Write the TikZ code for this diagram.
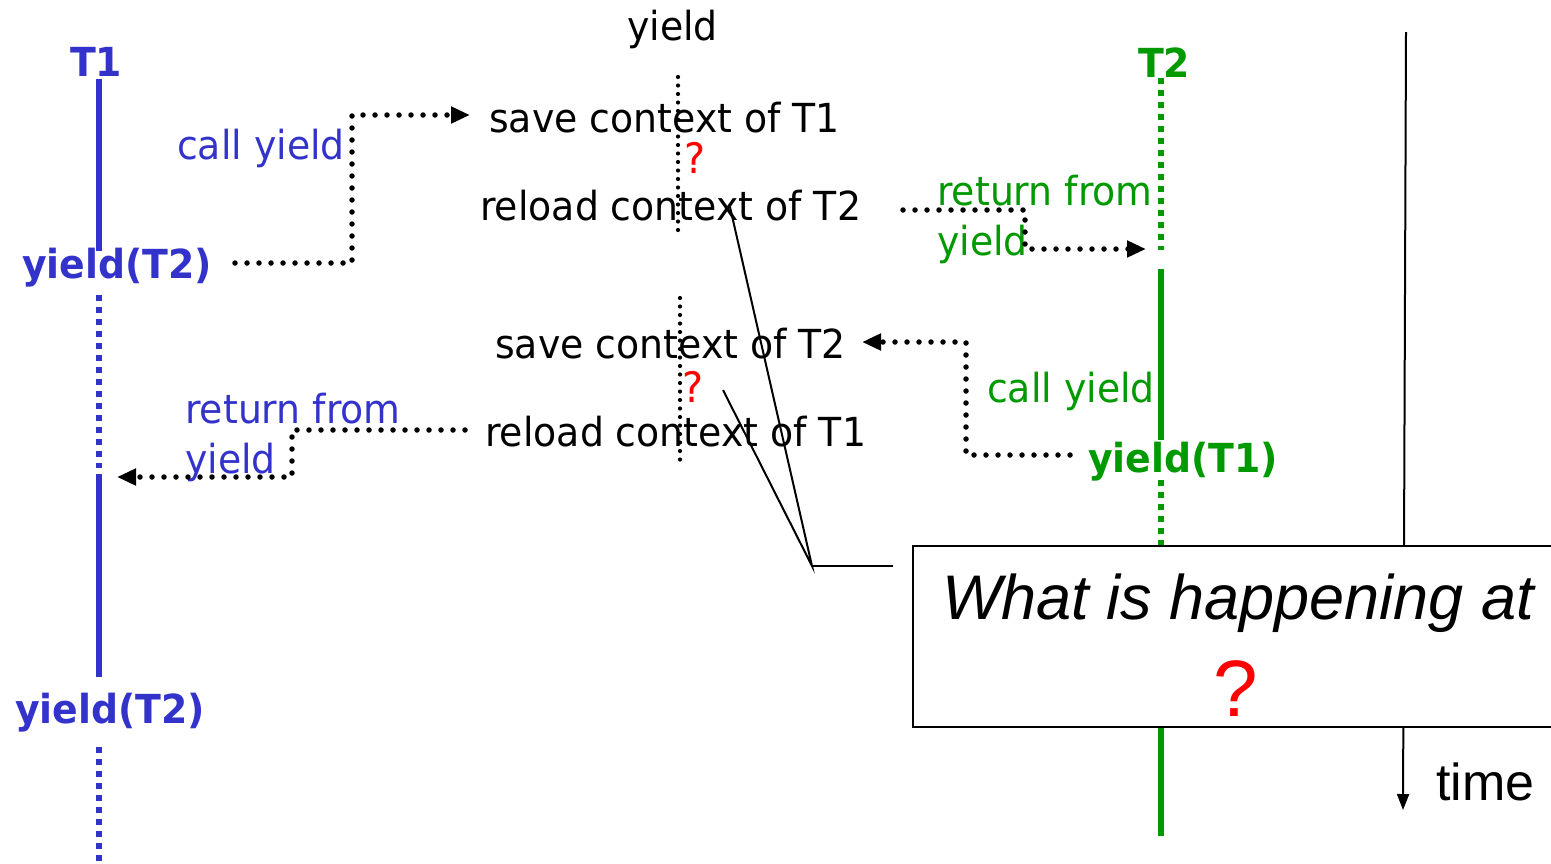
\documentclass[tikz,border=0pt]{standalone}
\usepackage{fontspec}
\usetikzlibrary{arrows.meta}
\newfontfamily\tah[FakeStretch=0.945]{DejaVu Sans}
\newfontfamily\arl{Liberation Sans}
\definecolor{tblue}{RGB}{51,51,204}
\definecolor{tgreen}{RGB}{0,153,0}
\definecolor{qred}{RGB}{255,0,0}
\begin{document}
\begin{tikzpicture}[x=1pt,y=-1pt,
  txt/.style={inner sep=0pt, anchor=base west, font=\tah\fontsize{40}{48}\selectfont},
  btxt/.style={inner sep=0pt, anchor=base west, font=\tah\bfseries\fontsize{40}{48}\selectfont},
  dotarrow/.style={line width=5.5pt, line cap=round, line join=round, dash pattern=on 0pt off 12pt, -{Triangle[length=19pt,width=16pt]}},
  vdots/.style={line width=4.2pt, line cap=round, dash pattern=on 0pt off 8.5pt},
  life/.style={line width=6pt},
  lifedot/.style={line width=6pt, dash pattern=on 6pt off 6pt},
  callout/.style={line width=2pt, black},
  smallq/.style={inner sep=0pt, anchor=base west, text=qred, font=\tah\fontsize{42}{48}\selectfont}
]
\useasboundingbox (0,0) rectangle (1551,863);
\clip (0,0) rectangle (1551,863);

% time axis
\coordinate (ttop) at (1406,32);
\coordinate (tbot) at (1403,810);
\draw[line width=2pt, -{Triangle[length=16pt,width=12pt]}] (ttop) -- (tbot);
\node[inner sep=0pt, anchor=base west, font=\arl\fontsize{52}{60}\selectfont] (time) at (1436,800) {time};

% T1 lifeline
\node[btxt, text=tblue] (T1) at (70,76) {T1};
\draw[life, tblue] (99,79) -- (99,251);
\draw[lifedot, tblue] (99,295) -- (99,468);
\draw[life, tblue] (99,474) -- (99,677);
\draw[lifedot, tblue] (99,747) -- (99,870);
\node[btxt, text=tblue] (y1) at (22,278) {yield(T2)};
\node[btxt, text=tblue] (y3) at (15,723) {yield(T2)};
\node[txt, text=tblue] (cy1) at (177,159) {call yield};
\node[txt, text=tblue] (rf1) at (185,423) {return from};
\node[txt, text=tblue] (ry1) at (185,473) {yield};

% T2 lifeline
\node[btxt, text=tgreen] (T2) at (1138,77) {T2};
\draw[lifedot, tgreen] (1161,78) -- (1161,250);
\draw[life, tgreen] (1161,269) -- (1161,440);
\draw[lifedot, tgreen] (1161,480) -- (1161,560);
\draw[life, tgreen] (1161,715) -- (1161,836);
\node[btxt, text=tgreen] (y2) at (1088,472) {yield(T1)};
\node[txt, text=tgreen] (cy2) at (987,402) {call yield};
\node[txt, text=tgreen] (rf2) at (937,205) {return from};
\node[txt, text=tgreen] (ry2) at (937,255) {yield};

% yield column
\node[txt] (yl) at (627,40) {yield};
\draw[vdots] (678,77) -- (678,238);
\draw[vdots] (680,298) -- (680,460);
\node[txt] (s1) at (489,132) {save context of T1};
\node[txt] (r2) at (480,220) {reload context of T2};
\node[txt] (s2) at (495,358) {save context of T2};
\node[txt] (r1) at (485,446) {reload context of T1};
\node[smallq] (q1) at (684,173) {?};
\node[smallq] (q2) at (682,402) {?};

% dotted connectors
\coordinate (a1s) at (235,263);
\coordinate (a1c) at (352,263);
\coordinate (a1d) at (352,115);
\coordinate (a1e) at (470,115);
\draw[dotarrow] (a1s) -- (a1c) -- (a1d) -- (a1e);

\coordinate (a2s) at (903,210);
\coordinate (a2c) at (1025,210);
\coordinate (a2d) at (1025,249);
\coordinate (a2e) at (1146,249);
\draw[dotarrow] (a2s) -- (a2c) -- (a2d) -- (a2e);

\coordinate (a3s) at (1070,455);
\coordinate (a3c) at (966,455);
\coordinate (a3d) at (966,342);
\coordinate (a3e) at (862,342);
\draw[dotarrow] (a3s) -- (a3c) -- (a3d) -- (a3e);

\coordinate (a4s) at (465,430);
\coordinate (a4c) at (292,430);
\coordinate (a4d) at (292,477);
\coordinate (a4e) at (117,477);
\draw[dotarrow] (a4s) -- (a4c) -- (a4d) -- (a4e);

% callout
\coordinate (cc) at (812,566);
\coordinate (cu) at (730,207);
\coordinate (cm) at (723,390);
\coordinate (ch) at (893,566);
\draw[callout] (cu) -- (cc) -- (cm);
\draw[callout] (cc) -- (ch);

% question box
\draw[line width=2pt, fill=white] (913,546) rectangle (1570,727);
\node[inner sep=0pt, anchor=base west, font=\arl\itshape\fontsize{63}{70}\selectfont] (what) at (942,619) {What is happening at};
\node[inner sep=0pt, anchor=base, text=qred, font=\arl\fontsize{80}{90}\selectfont] (bq) at (1236,716) {?};
\end{tikzpicture}
\end{document}
